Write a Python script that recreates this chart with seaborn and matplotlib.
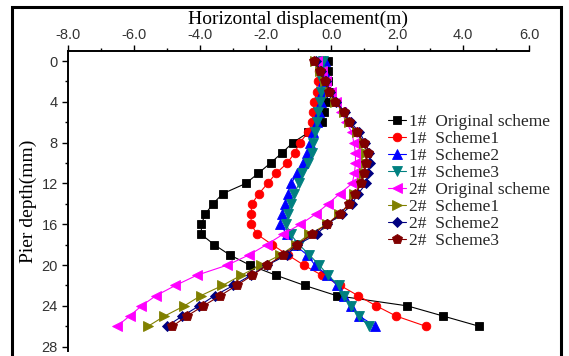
import numpy as np
import pandas as pd
import matplotlib
matplotlib.use("Agg")
import matplotlib.pyplot as plt
import seaborn as sns
from matplotlib.patches import Rectangle
from matplotlib.ticker import MultipleLocator, FormatStrFormatter

# ---------------- data ----------------
depth = list(range(27))

p1_original = [-0.10, -0.10, -0.10, -0.08, -0.15, -0.22, -0.30, -0.70, -1.17, -1.50,
               -1.85, -2.22, -2.60, -3.30, -3.60, -3.83, -3.95, -3.95, -3.56, -3.09,
               -2.48, -1.68, -0.81, 0.16, 2.31, 3.40, 4.49]
p1_scheme1 = [-0.35, -0.38, -0.42, -0.45, -0.52, -0.55, -0.58, -0.71, -0.96, -1.12,
              -1.34, -1.68, -1.94, -2.20, -2.42, -2.44, -2.44, -2.25, -1.80, -1.33,
              -0.84, -0.29, 0.27, 0.81, 1.36, 1.97, 2.87]
p1_scheme2 = [-0.20, -0.24, -0.27, -0.30, -0.33, -0.38, -0.45, -0.55, -0.65, -0.73,
              -0.85, -1.04, -1.22, -1.33, -1.40, -1.49, -1.56, -1.35, -1.12, -0.74,
              -0.50, -0.13, 0.17, 0.37, 0.58, 0.85, 1.33]
p1_scheme3 = [-0.25, -0.28, -0.30, -0.33, -0.36, -0.40, -0.45, -0.50, -0.55, -0.60,
              -0.70, -0.88, -0.98, -1.13, -1.24, -1.32, -1.37, -1.24, -0.98, -0.67,
              -0.37, -0.10, 0.22, 0.38, 0.60, 0.85, 1.13]
p2_original = [-0.45, -0.30, -0.15, 0.00, 0.15, 0.30, 0.45, 0.62, 0.68, 0.73,
               0.73, 0.70, 0.63, 0.25, -0.10, -0.48, -0.94, -1.48, -1.97, -2.50,
               -3.16, -4.09, -4.74, -5.33, -5.77, -6.13, -6.52]
p2_scheme1 = [-0.50, -0.35, -0.20, -0.05, 0.12, 0.37, 0.53, 0.78, 0.98, 1.05,
              1.05, 1.00, 0.93, 0.70, 0.58, 0.22, -0.13, -0.69, -1.09, -1.55,
              -2.15, -2.74, -3.31, -3.97, -4.47, -5.07, -5.57]
p2_scheme2 = [-0.48, -0.33, -0.18, -0.03, 0.15, 0.40, 0.58, 0.85, 1.03, 1.15,
              1.18, 1.12, 1.06, 0.81, 0.63, 0.32, -0.13, -0.45, -1.04, -1.34,
              -1.95, -2.45, -2.98, -3.55, -4.02, -4.53, -5.00]
p2_scheme3 = [-0.52, -0.36, -0.21, -0.08, 0.12, 0.37, 0.53, 0.78, 0.98, 1.10,
              1.05, 1.00, 0.90, 0.73, 0.53, 0.25, -0.13, -0.59, -1.06, -1.46,
              -1.95, -2.40, -2.88, -3.38, -3.89, -4.39, -4.83]

series_labels = ["1#  Original scheme", "1#  Scheme1", "1#  Scheme2", "1#  Scheme3",
                 "2#  Original scheme", "2#  Scheme1", "2#  Scheme2", "2#  Scheme3"]
series_values = [p1_original, p1_scheme1, p1_scheme2, p1_scheme3,
                 p2_original, p2_scheme1, p2_scheme2, p2_scheme3]
x_ticks = [-8.0, -6.0, -4.0, -2.0, 0.0, 2.0, 4.0, 6.0]
y_ticks = [0, 4, 8, 12, 16, 20, 24, 28]

colors = ["#000000", "#FF0000", "#0000FF", "#008080",
          "#FF00FF", "#808000", "#000080", "#800000"]
markers = ["s", "o", "^", "v", "<", ">", "D", "p"]
msizes = [5.2, 6.2, 6.8, 6.8, 6.8, 6.8, 5.4, 7.2]

# ---------------- style ----------------
sns.set_theme(style="ticks")
plt.rcParams["font.family"] = ["Liberation Serif", "DejaVu Serif"]

W, H = 569, 356
fig = plt.figure(figsize=(W / 100, H / 100), dpi=100)
ax = fig.add_axes([68 / W, 1 - 351 / H, (529 - 68) / W, (351 - 51) / H])

for lab, vals, c, m, ms in zip(series_labels, series_values, colors, markers, msizes):
    sns.lineplot(x=vals, y=depth, sort=False, estimator=None, color=c,
                 marker=m, markersize=ms, markeredgecolor=c, markeredgewidth=0.6,
                 linewidth=0.8, ax=ax, label=lab)

ax.set_xlim(-8.0, 6.0)
ax.set_ylim(28.42, -0.98)
ax.xaxis.tick_top()
ax.xaxis.set_label_position("top")
ax.set_xticks(x_ticks)
ax.xaxis.set_minor_locator(MultipleLocator(1.0))
ax.xaxis.set_major_formatter(FormatStrFormatter("%.1f"))
ax.set_yticks(y_ticks)
ax.yaxis.set_minor_locator(MultipleLocator(2))

for s in ["right", "bottom"]:
    ax.spines[s].set_visible(False)
for s in ["top", "left"]:
    ax.spines[s].set_linewidth(1.4)
    ax.spines[s].set_color("black")

ax.tick_params(axis="both", which="major", direction="out", length=4.3, width=1.0,
               color="black", labelcolor="#333333", labelsize=10.5)
ax.tick_params(axis="both", which="minor", direction="out", length=2.2, width=1.0,
               color="black")
ax.tick_params(axis="x", which="major", pad=2.0)
ax.tick_params(axis="y", which="major", pad=3.0)
for t in ax.get_xticklabels() + ax.get_yticklabels():
    t.set_family(["Liberation Sans", "DejaVu Sans"])

ax.set_xlabel("Horizontal displacement(m)", fontsize=14.0, labelpad=2.8, color="black")
ax.set_ylabel("Pier depth(mm)", fontsize=14.0, labelpad=3, color="black")

leg = ax.legend(loc="upper left", bbox_to_anchor=(388 / W, 1 - 114 / H),
                bbox_transform=fig.transFigure, frameon=False,
                prop={"family": ["Liberation Serif"], "size": 12.5},
                handlelength=1.05, handletextpad=0.15, labelspacing=0.05,
                borderpad=0, borderaxespad=0)

# outer frame of the picture
fig.patches.append(Rectangle((11.5 / W, -0.05), (560.5 - 11.5) / W, 1.05 - 7.5 / H,
                             transform=fig.transFigure, fill=False,
                             edgecolor="black", linewidth=2.2))

fig.savefig("out.png", dpi=100)
